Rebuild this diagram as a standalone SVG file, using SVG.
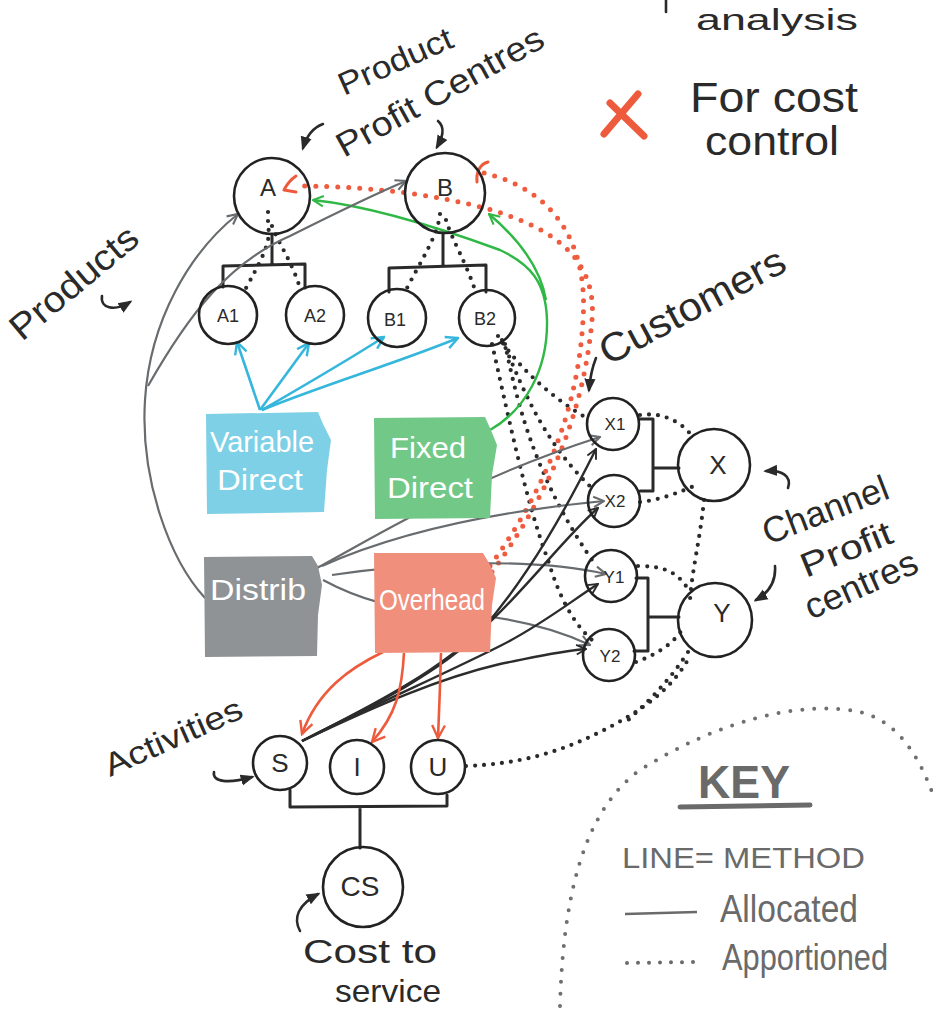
<svg xmlns="http://www.w3.org/2000/svg" width="933" height="1012" viewBox="0 0 933 1012">
<style>
.nd{fill:none;stroke:#222;stroke-width:2.6}
.br{fill:none;stroke:#2a2a2a;stroke-width:3;stroke-linecap:round;stroke-linejoin:round}
.dot{fill:none;stroke:#2a2a2a;stroke-width:4.2;stroke-dasharray:0 9;stroke-linecap:round}
.rdot{fill:none;stroke:#ef5b3e;stroke-width:5;stroke-dasharray:0 11;stroke-linecap:round}
.kdot{fill:none;stroke:#6f6f6f;stroke-width:4;stroke-dasharray:0 12;stroke-linecap:round}
.gr{fill:none;stroke:#686c6f;stroke-width:2.2}
.gn{fill:none;stroke:#2fb845;stroke-width:2.4}
.bl{fill:none;stroke:#35b6dc;stroke-width:2.6}
.rd{fill:none;stroke:#ee5a3c;stroke-width:2.6}
.bk{fill:none;stroke:#2c2c2c;stroke-width:2.4}
.ann{fill:none;stroke:#2a2a2a;stroke-width:2.6;stroke-linecap:round}
.t{font-family:"Liberation Sans","DejaVu Sans",sans-serif;fill:#2a2a2a}
.lb{font-family:"Liberation Sans","DejaVu Sans",sans-serif;fill:#2a2a2a;text-anchor:middle}
.bx{font-family:"Liberation Sans","DejaVu Sans",sans-serif;fill:#ffffff;text-anchor:middle}
.k{font-family:"Liberation Sans","DejaVu Sans",sans-serif;fill:#6a6a6a}
</style>
<defs>
<marker id="mg" viewBox="0 0 10 10" refX="9" refY="5" markerWidth="13" markerHeight="13" markerUnits="userSpaceOnUse" orient="auto"><path d="M1,1 L9,5 L1,9" fill="none" stroke="#686c6f" stroke-width="1.6"/></marker>
<marker id="mn" viewBox="0 0 10 10" refX="9" refY="5" markerWidth="13" markerHeight="13" markerUnits="userSpaceOnUse" orient="auto"><path d="M1,1 L9,5 L1,9" fill="none" stroke="#2fb845" stroke-width="1.6"/></marker>
<marker id="mb" viewBox="0 0 10 10" refX="9" refY="5" markerWidth="15" markerHeight="15" markerUnits="userSpaceOnUse" orient="auto"><path d="M1,1 L9,5 L1,9" fill="none" stroke="#35b6dc" stroke-width="1.6"/></marker>
<marker id="mr" viewBox="0 0 10 10" refX="9" refY="5" markerWidth="16" markerHeight="16" markerUnits="userSpaceOnUse" orient="auto"><path d="M1,1 L9,5 L1,9" fill="none" stroke="#ee5a3c" stroke-width="1.5"/></marker>
<marker id="mk" viewBox="0 0 10 10" refX="9" refY="5" markerWidth="12" markerHeight="12" markerUnits="userSpaceOnUse" orient="auto"><path d="M1,1 L9,5 L1,9" fill="none" stroke="#2c2c2c" stroke-width="1.6"/></marker>
<marker id="mf" viewBox="0 0 10 10" refX="8" refY="5" markerWidth="14" markerHeight="14" markerUnits="userSpaceOnUse" orient="auto"><path d="M0,1 L10,5 L0,9 Z" fill="#2a2a2a"/></marker>
</defs>
<rect width="933" height="1012" fill="#ffffff"/>

<!-- header texts -->
<g id="header">
<line x1="666" y1="0" x2="666" y2="12" class="ann" stroke-width="3"/>
<text class="t" x="696" y="30" font-size="30" textLength="162" lengthAdjust="spacingAndGlyphs">analysis</text>
<path d="M604,134 L638,94 M610,103 L644,136" stroke="#ee5a3c" stroke-width="7" stroke-linecap="round" fill="none"/>
<text class="t" x="690" y="112" font-size="42" textLength="168" lengthAdjust="spacingAndGlyphs">For cost</text>
<text class="t" x="705" y="155" font-size="40" textLength="134" lengthAdjust="spacingAndGlyphs">control</text>
</g>

<!-- labels -->
<g id="labels">
<text class="t" font-size="32" transform="translate(344,96) rotate(-24)" textLength="122" lengthAdjust="spacingAndGlyphs">Product</text>
<text class="t" font-size="34" transform="translate(344,158) rotate(-29)" textLength="232" lengthAdjust="spacingAndGlyphs">Profit Centres</text>
<text class="t" font-size="36" transform="translate(22,342) rotate(-40)" textLength="156" lengthAdjust="spacingAndGlyphs">Products</text>
<text class="t" font-size="40" transform="translate(608,366) rotate(-28)" textLength="205" lengthAdjust="spacingAndGlyphs">Customers</text>
<text class="t" font-size="36" transform="translate(768,545) rotate(-21)" textLength="132" lengthAdjust="spacingAndGlyphs">Channel</text>
<text class="t" font-size="34" transform="translate(806,578) rotate(-22)" textLength="96" lengthAdjust="spacingAndGlyphs">Profit</text>
<text class="t" font-size="36" transform="translate(811,620) rotate(-24)" textLength="120" lengthAdjust="spacingAndGlyphs">centres</text>
<text class="t" font-size="32" transform="translate(110,777) rotate(-24)" textLength="148" lengthAdjust="spacingAndGlyphs">Activities</text>
<text class="t" x="303" y="963" font-size="34" textLength="134" lengthAdjust="spacingAndGlyphs">Cost to</text>
<text class="t" x="335" y="1002" font-size="32" textLength="106" lengthAdjust="spacingAndGlyphs">service</text>
<!-- annotation arrows -->
<path class="ann" d="M323,124 C312,128 306,138 303,148" marker-end="url(#mf)"/>
<path class="ann" d="M438,121 C446,128 442,138 437,147" marker-end="url(#mf)"/>
<path class="ann" d="M102,296 C100,308 114,312 130,302" marker-end="url(#mf)"/>
<path class="ann" d="M596,358 C592,368 590,378 589,390" marker-end="url(#mf)"/>
<path class="ann" d="M788,488 C792,476 782,470 766,471" marker-end="url(#mf)"/>
<path class="ann" d="M775,566 C776,580 770,592 756,600" marker-end="url(#mf)"/>
<path class="ann" d="M214,772 C212,782 228,784 252,777" marker-end="url(#mf)"/>
<path class="ann" d="M300,931 C293,918 298,905 318,894" marker-end="url(#mf)"/>
</g>

<!-- connectors -->
<g id="connectors">
<!-- structure brackets -->
<path class="br" d="M272,234 V265 M223,287 V266 L305,264 V288"/>
<path class="br" d="M443,233 V266 M389,292 V268 L486,265 V292"/>
<path class="br" d="M639,419 H653 V491 H640 M653,468 H679"/>
<path class="br" d="M636,578 H648 V651 H634 M648,617 H679"/>
<path class="br" d="M290,790 V807 L447,806 V795 M360,807 V848"/>
<!-- apportioned dotted (black) -->
<path class="dot" d="M268,212 L268,226 C272,242 260,262 245,290"/>
<path class="dot" d="M272,226 C280,246 292,262 300,288"/>
<path class="dot" d="M440,214 C438,236 420,262 405,292"/>
<path class="dot" d="M446,220 C452,240 466,262 476,293"/>
<path class="dot" d="M498,336 C520,370 555,400 590,420"/>
<path class="dot" d="M502,340 C520,380 540,440 594,490"/>
<path class="dot" d="M505,344 C515,390 530,470 592,560"/>
<path class="dot" d="M492,344 C505,400 525,500 548,560 C560,600 575,625 592,640"/>
<path class="dot" d="M640,415 C660,412 680,420 692,436"/>
<path class="dot" d="M640,502 C660,500 680,492 694,486"/>
<path class="dot" d="M704,500 C700,540 692,570 690,600"/>
<path class="dot" d="M638,566 C660,566 675,570 686,586"/>
<path class="dot" d="M636,662 C655,655 672,645 682,630"/>
<path class="dot" d="M466,766 C520,764 560,752 600,732 C640,712 672,690 690,656"/>
<path class="dot" d="M688,652 C670,680 650,700 626,722"/>
<!-- red dotted -->
<path class="rdot" d="M490,566 C545,490 578,410 583,320 C588,250 560,190 480,172"/>
<path class="rdot" d="M492,572 C552,490 584,410 592,320 C598,250 540,218 450,200 C400,190 340,186 300,186"/>
<path d="M488,162 C480,164 476,172 477,182" stroke="#ee5a3c" stroke-width="3" fill="none" stroke-linecap="round"/>
<path d="M296,176 C290,180 286,186 284,190 M284,190 L296,192" stroke="#ee5a3c" stroke-width="3" fill="none" stroke-linecap="round"/>
<!-- green -->
<path class="gn" d="M490,430 C525,410 548,370 547,320 C546,282 530,264 500,250 C440,228 370,206 313,200" marker-end="url(#mn)"/>
<path class="gn" d="M546,300 C540,265 515,236 489,214" marker-end="url(#mn)"/>
<!-- blue -->
<path class="bl" d="M260,410 L237,342" marker-end="url(#mb)"/>
<path class="bl" d="M260,410 L309,343" marker-end="url(#mb)"/>
<path class="bl" d="M262,410 C300,388 345,362 384,337" marker-end="url(#mb)"/>
<path class="bl" d="M262,410 C320,386 400,362 458,338" marker-end="url(#mb)"/>
<!-- gray distribution -->
<path class="gr" d="M205,598 C170,560 140,480 145,400 C150,320 190,252 238,214" marker-end="url(#mg)"/>
<path class="gr" d="M148,386 C190,312 230,262 290,236 C330,216 370,196 406,181" marker-end="url(#mg)"/>
<path class="gr" d="M317,568 C370,540 460,482 600,437" marker-end="url(#mg)"/>
<path class="gr" d="M322,566 C380,540 470,514 604,501" marker-end="url(#mg)"/>
<path class="gr" d="M332,575 C400,565 520,555 606,574" marker-end="url(#mg)"/>
<path class="gr" d="M323,580 C360,600 400,610 440,612 C500,615 550,626 590,645" marker-end="url(#mg)"/>
<!-- black from S -->
<path class="bk" d="M302,741 C380,702 440,672 480,632 C530,575 568,505 596,449" marker-end="url(#mk)"/>
<path class="bk" d="M302,741 C380,702 440,670 490,622 C530,584 568,534 598,508" marker-end="url(#mk)"/>
<path class="bk" d="M302,741 C380,702 440,676 500,646 C540,626 570,602 598,584" marker-end="url(#mk)"/>
<path class="bk" d="M302,741 C380,704 440,678 500,664 C540,656 560,651 586,649" marker-end="url(#mk)"/>
<!-- orange from overhead -->
<path class="rd" d="M383,652 C350,668 318,690 302,734" marker-end="url(#mr)"/>
<path class="rd" d="M404,653 C402,690 396,715 372,742" marker-end="url(#mr)"/>
<path class="rd" d="M441,653 C440,690 439,715 438,738" marker-end="url(#mr)"/>
</g>

<!-- cost boxes -->
<g id="variable-direct">
<path d="M206,414 L318,412 L323,424 L331,440 L327,470 L324,512 L207,514 Z" fill="#7dd0e6"/>
<text class="bx" x="262" y="452" font-size="30" textLength="104" lengthAdjust="spacingAndGlyphs">Variable</text>
<text class="bx" x="260" y="490" font-size="30" textLength="86" lengthAdjust="spacingAndGlyphs">Direct</text>
</g>
<g id="fixed-direct">
<path d="M374,418 L485,417 L490,428 L497,445 L492,475 L490,518 L375,519 Z" fill="#72c987"/>
<text class="bx" x="428" y="458" font-size="30" textLength="76" lengthAdjust="spacingAndGlyphs">Fixed</text>
<text class="bx" x="430" y="498" font-size="30" textLength="86" lengthAdjust="spacingAndGlyphs">Direct</text>
</g>
<g id="distrib">
<path d="M204,557 L312,556 L318,566 L322,585 L318,615 L317,656 L205,657 Z" fill="#8f9396"/>
<text class="bx" x="258" y="600" font-size="30" textLength="96" lengthAdjust="spacingAndGlyphs">Distrib</text>
</g>
<g id="overhead">
<path d="M374,553 L483,553 L489,563 L496,578 L492,605 L490,652 L375,653 Z" fill="#f08f7c"/>
<text class="bx" x="432" y="610" font-size="30" textLength="106" lengthAdjust="spacingAndGlyphs">Overhead</text>
</g>

<!-- nodes -->
<g id="node-A"><circle class="nd" cx="272" cy="196" r="38"/><text class="lb" x="268" y="196" font-size="24">A</text></g>
<g id="node-B"><circle class="nd" cx="445" cy="193" r="40"/><text class="lb" x="445" y="196" font-size="24">B</text></g>
<g id="node-A1"><circle class="nd" cx="228" cy="315" r="29"/><text class="lb" x="228" y="322" font-size="18">A1</text></g>
<g id="node-A2"><circle class="nd" cx="315" cy="315" r="29"/><text class="lb" x="315" y="322" font-size="18">A2</text></g>
<g id="node-B1"><circle class="nd" cx="397" cy="318" r="29"/><text class="lb" x="395" y="326" font-size="18">B1</text></g>
<g id="node-B2"><circle class="nd" cx="487" cy="318" r="28"/><text class="lb" x="485" y="325" font-size="18">B2</text></g>
<g id="node-X1"><circle class="nd" cx="613" cy="424" r="26"/><text class="lb" x="615" y="430" font-size="17">X1</text></g>
<g id="node-X2"><circle class="nd" cx="614" cy="501" r="26"/><text class="lb" x="615" y="507" font-size="17">X2</text></g>
<g id="node-Y1"><circle class="nd" cx="611" cy="576" r="26"/><text class="lb" x="614" y="583" font-size="17">Y1</text></g>
<g id="node-Y2"><circle class="nd" cx="609" cy="655" r="26"/><text class="lb" x="610" y="662" font-size="17">Y2</text></g>
<g id="node-X"><circle class="nd" cx="714" cy="465" r="36"/><text class="lb" x="718" y="474" font-size="26">X</text></g>
<g id="node-Y"><circle class="nd" cx="715" cy="620" r="37"/><text class="lb" x="722" y="622" font-size="26">Y</text></g>
<g id="node-S"><circle class="nd" cx="280" cy="763" r="27"/><text class="lb" x="280" y="772" font-size="26">S</text></g>
<g id="node-I"><circle class="nd" cx="357" cy="767" r="27"/><text class="lb" x="357" y="776" font-size="26">I</text></g>
<g id="node-U"><circle class="nd" cx="438" cy="767" r="27"/><text class="lb" x="438" y="776" font-size="26">U</text></g>
<g id="node-CS"><circle class="nd" cx="363" cy="887" r="40"/><text class="lb" x="360" y="896" font-size="28">CS</text></g>

<!-- key -->
<g id="key">
<path class="kdot" d="M560,1006 C563,900 582,812 640,770 C720,720 800,700 860,712 C900,722 920,760 932,792"/>
<text class="k" x="698" y="798" font-size="46" font-weight="bold" textLength="92" lengthAdjust="spacingAndGlyphs">KEY</text>
<line x1="680" y1="807" x2="810" y2="805" stroke="#6a6a6a" stroke-width="5" stroke-linecap="round"/>
<text class="k" x="622" y="868" font-size="30" textLength="243" lengthAdjust="spacingAndGlyphs">LINE= METHOD</text>
<line x1="625" y1="914" x2="697" y2="912" stroke="#6a6a6a" stroke-width="2.5"/>
<text class="k" x="720" y="922" font-size="38" textLength="138" lengthAdjust="spacingAndGlyphs">Allocated</text>
<line x1="627" y1="963" x2="695" y2="962" stroke="#6a6a6a" stroke-width="4" stroke-dasharray="0 11" stroke-linecap="round"/>
<text class="k" x="722" y="970" font-size="36" textLength="166" lengthAdjust="spacingAndGlyphs">Apportioned</text>
</g>
</svg>
